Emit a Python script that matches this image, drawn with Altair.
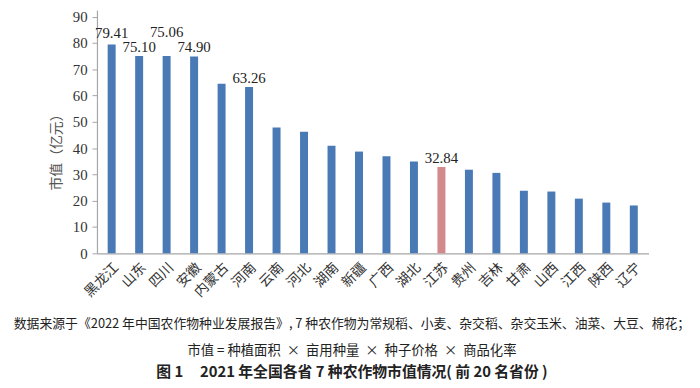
import altair as alt
import pandas as pd

provinces = ["黑龙江", "山东", "四川", "安徽", "内蒙古", "河南", "云南", "河北", "湖南", "新疆",
             "广西", "湖北", "江苏", "贵州", "吉林", "甘肃", "山西", "江西", "陕西", "辽宁"]
values = [79.41, 75.10, 75.06, 74.90, 64.5, 63.26, 47.9, 46.2, 40.9, 38.7,
          36.9, 34.9, 32.84, 31.8, 30.6, 23.8, 23.5, 20.8, 19.3, 18.2]
labelled = ["79.41", "75.10", "75.06", "74.90", "", "63.26", "", "", "", "",
            "", "", "32.84", "", "", "", "", "", "", ""]
highlight = ["江苏"]
raised_high = ["四川"]
raised_mid = ["黑龙江"]

y_ticks = [0, 10, 20, 30, 40, 50, 60, 70, 80, 90]
y_title = "市值（亿元）"
NB = "\u00a0"
source_line = ("数据来源于《2022" + NB + "年中国农作物种业发展报告》," + NB + "7" + NB +
               "种农作物为常规稻、小麦、杂交稻、杂交玉米、油菜、大豆、棉花；")
formula_line = ("市值" + NB + "=" + NB + "种植面积" + NB * 2 + "×" + NB * 2 + "亩用种量" + NB * 2 +
                "×" + NB * 2 + "种子价格" + NB * 2 + "×" + NB * 2 + "商品化率")
fig_title = ("图" + NB + "1" + NB * 5 + "2021" + NB + "年全国各省" + NB + "7" + NB +
             "种农作物市值情况(" + NB + "前" + NB + "20" + NB + "名省份" + NB + ")")

df = pd.DataFrame({"province": provinces, "value": values, "label": labelled})
df["hl"] = df["province"].isin(highlight)
df["grp"] = "norm"
df.loc[df["province"].isin(raised_high), "grp"] = "high"
df.loc[df["province"].isin(raised_mid), "grp"] = "mid"

W, H = 558, 246

x_enc = alt.X("province:N", sort=provinces,
              scale=alt.Scale(paddingInner=0.71, paddingOuter=0.39),
              axis=alt.Axis(title=None, labelAngle=-45, labelFont="Noto Sans CJK SC",
                            labelFontSize=14, labelColor="#333333", ticks=False,
                            labelPadding=7, domainColor="#a6a6a6", domainWidth=1.2))
y_enc = alt.Y("value:Q", scale=alt.Scale(domain=[0, 92.5], nice=False),
              axis=alt.Axis(values=y_ticks, grid=False, title=y_title,
                            titleFont="Noto Sans CJK SC", titleFontSize=14,
                            titleFontWeight="normal", titleColor="#555555",
                            titleX=-34, titleY=140, titleAngle=-90,
                            labelFont="Liberation Serif", labelFontSize=15,
                            labelColor="#333333", tickSize=5, tickColor="#a6a6a6",
                            labelOverlap=False, labelFlush=False,
                            labelPadding=5, domainColor="#a6a6a6", domainWidth=1.2))

base = alt.Chart(df)
bars = base.mark_bar().encode(
    x=x_enc, y=y_enc,
    color=alt.Color("hl:N", scale=alt.Scale(domain=[False, True], range=["#4a7ab5", "#d4898d"]),
                    legend=None),
)

def labels(grp, dy):
    return base.transform_filter(
        f"datum.label != '' && datum.grp == '{grp}'"
    ).mark_text(
        font="Liberation Serif", fontSize=15, color="#222222", baseline="alphabetic", dy=dy
    ).encode(x=x_enc, y=y_enc, text="label:N")

lab_norm = labels("norm", -4)
lab_high = labels("high", -19)
lab_mid = labels("mid", -7)

def caption(text, y, size, weight="normal"):
    return alt.Chart(pd.DataFrame({"t": [text]})).mark_text(
        font="Noto Sans CJK SC", fontSize=size, fontWeight=weight, color="#222222",
        align="center", baseline="middle"
    ).encode(x=alt.value(258), y=alt.value(y), text="t:N")

cap1 = caption(source_line, 318, 13)
cap2 = caption(formula_line, 345, 13.5)
cap3 = caption(fig_title, 366, 15, "bold")

chart = alt.layer(bars, lab_norm, lab_high, lab_mid, cap1, cap2, cap3).properties(
    width=W, height=H,
    autosize=alt.AutoSizeParams(type="none"),
    padding={"left": 90, "top": 0, "right": 44, "bottom": 126},
).configure_view(stroke=None).configure_axisY(labelFont="Liberation Serif")

chart.save("out.html", embed_options={"renderer": "svg", "actions": False})
